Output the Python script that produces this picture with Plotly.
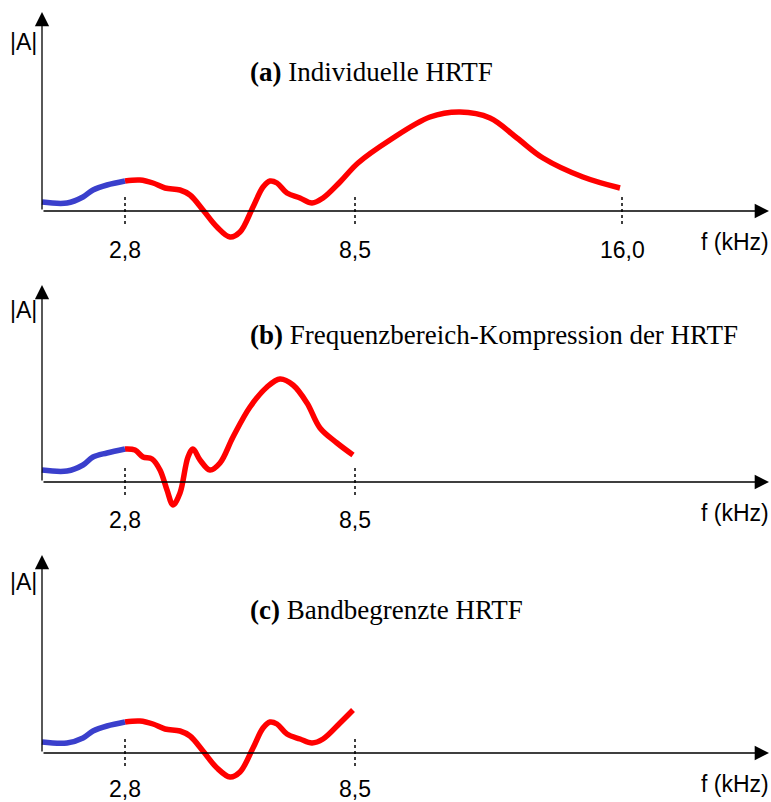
import plotly.graph_objects as go

# ---------------- data (x: position along frequency axis, y: |A| magnitude) -------------
tick_pos = [83, 313, 580]
tick_text_a = ["2,8", "8,5", "16,0"]
tick_text_bc = ["2,8", "8,5"]

# Panel (a) Individuelle HRTF
a_blue_x = [0, 25, 41, 51, 65, 83]
a_blue_y = [9, 8, 14, 21, 26, 30]
a_red_x = [83, 98, 111, 123, 138, 148, 161, 175, 188, 198, 211, 221, 228, 235, 245, 258,
           270, 281, 298, 316, 348, 388, 418, 448, 475, 501, 541, 578]
a_red_y = [30, 31, 28, 23, 21, 16, 1, -16, -26, -21, 4, 24, 30, 28, 18, 13,
           8, 13, 29, 48, 71, 94, 99, 93, 73, 53, 34, 23]

# Panel (b) Frequenzbereich-Kompression
b_blue_x = [0, 25, 41, 51, 65, 83]
b_blue_y = [12, 11, 17, 25, 29, 33]
b_red_x = [83, 93, 101, 110, 118, 125, 131, 138, 146, 151, 158, 168, 178, 191, 208, 225,
           238, 251, 265, 278, 295, 311]
b_red_y = [33, 32, 25, 23, 12, -8, -23, -11, 25, 33, 22, 12, 19, 45, 75, 95,
           103, 97, 79, 54, 39, 27]

# Panel (c) Bandbegrenzte HRTF
c_blue_x = [0, 25, 41, 51, 65, 83]
c_blue_y = [11, 10, 15, 22, 27, 31]
c_red_x = [83, 98, 111, 123, 138, 148, 161, 175, 188, 198, 211, 221, 228, 235, 245, 258,
           270, 281, 298, 311]
c_red_y = [31, 32, 29, 24, 22, 17, 2, -15, -24, -19, 5, 25, 31, 29, 19, 14,
           10, 14, 30, 43]

titles = ["Individuelle HRTF", "Frequenzbereich-Kompression der HRTF", "Bandbegrenzte HRTF"]
letters = ["(a)", "(b)", "(c)"]

BLUE = "#3a3fcc"
RED = "#ff0000"
W, H = 771, 802
SANS = "Liberation Sans, Arial"
SERIF = "Liberation Serif, Times New Roman"

# panel bands in pixels (top, bottom) and axis-origin pixel row
bands = [(0, 265, 211), (265, 535, 482), (535, 802, 753)]
arrow_top = [12, 285, 555]
tick_label_off = [-39, -38, -36]

fig = go.Figure()
panels = [
    (a_blue_x, a_blue_y, a_red_x, a_red_y, tick_text_a),
    (b_blue_x, b_blue_y, b_red_x, b_red_y, tick_text_bc),
    (c_blue_x, c_blue_y, c_red_x, c_red_y, tick_text_bc),
]

layout_axes = {}
annotations = []
shapes = []
for i, (bx, by, rx, ry, tt) in enumerate(panels):
    n = "" if i == 0 else str(i + 1)
    xa, ya = "x" + n, "y" + n
    top, bot, org = bands[i]
    layout_axes["xaxis" + n] = dict(domain=[0, 1], range=[-42, W - 42], visible=False,
                                    fixedrange=True)
    layout_axes["yaxis" + n] = dict(domain=[1 - bot / H, 1 - top / H],
                                    range=[org - bot, org - top], visible=False,
                                    fixedrange=True)
    fig.add_trace(go.Scatter(x=rx, y=ry, mode="lines", xaxis=xa, yaxis=ya,
                             line=dict(color=RED, width=5.5, shape="spline", smoothing=1.0),
                             showlegend=False, hoverinfo="skip"))
    fig.add_trace(go.Scatter(x=bx, y=by, mode="lines", xaxis=xa, yaxis=ya,
                             line=dict(color=BLUE, width=5.5, shape="spline", smoothing=1.0),
                             showlegend=False, hoverinfo="skip"))
    # axes with arrowheads
    annotations.append(dict(x=W - 42 - 2, y=0, ax=0, ay=0, xref=xa, yref=ya, axref=xa, ayref=ya,
                            text="", showarrow=True, arrowhead=2, arrowsize=2.2,
                            arrowwidth=1.3, arrowcolor="black", standoff=0, startstandoff=0))
    annotations.append(dict(x=0, y=org - arrow_top[i], ax=0, ay=0, xref=xa, yref=ya,
                            axref=xa, ayref=ya, text="", showarrow=True, arrowhead=2,
                            arrowsize=2.2, arrowwidth=1.3, arrowcolor="black",
                            standoff=0, startstandoff=0))
    # dotted ticks and labels
    for p, t in zip(tick_pos, tt):
        shapes.append(dict(type="line", xref=xa, yref=ya, x0=p, x1=p, y0=14, y1=-15,
                           line=dict(color="black", width=1.5, dash="dot")))
        annotations.append(dict(x=p, y=tick_label_off[i], xref=xa, yref=ya, text=t,
                                showarrow=False, xanchor="center", yanchor="middle",
                                font=dict(family=SANS, size=23, color="black")))
    annotations.append(dict(x=W - 42, y=-31, xref=xa, yref=ya, text="f (kHz)",
                            showarrow=False, xanchor="right", yanchor="middle",
                            font=dict(family=SANS, size=23, color="black")))
    annotations.append(dict(x=-19, y=org - [42, 310, 582][i], xref=xa, yref=ya, text="|A|",
                            showarrow=False, xanchor="center", yanchor="middle",
                            font=dict(family=SANS, size=23, color="black")))
    annotations.append(dict(x=206, y=org - [72, 335, 610][i], xref=xa, yref=ya,
                            text="<b>" + letters[i] + "</b> " + titles[i],
                            showarrow=False, xanchor="left", yanchor="middle",
                            font=dict(family=SERIF, size=27, color="black")))

fig.update_layout(width=W, height=H, margin=dict(l=0, r=0, t=0, b=0),
                  paper_bgcolor="white", plot_bgcolor="white",
                  annotations=annotations, shapes=shapes, **layout_axes)
fig.write_html("out.html")
